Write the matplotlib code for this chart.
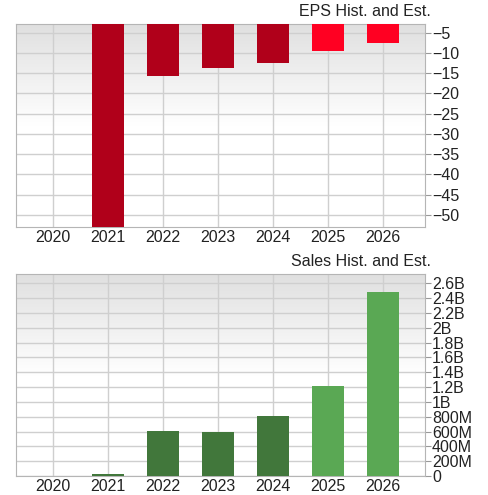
import numpy as np
import matplotlib.pyplot as plt
from matplotlib.colors import LinearSegmentedColormap
from matplotlib.ticker import FuncFormatter

years = ['2020', '2021', '2022', '2023', '2024', '2025', '2026']
eps = [0, -60, -15.8, -13.7, -12.6, -9.6, -7.5]
eps_is_est = [False, False, False, False, False, True, True]
sales = [0, 0.031e9, 0.61e9, 0.595e9, 0.807e9, 1.217e9, 2.478e9]
sales_is_est = [False, False, False, False, False, True, True]

eps_ticks = [-5, -10, -15, -20, -25, -30, -35, -40, -45, -50]
sales_ticks = [0, 0.2e9, 0.4e9, 0.6e9, 0.8e9, 1e9, 1.2e9, 1.4e9, 1.6e9, 1.8e9,
               2e9, 2.2e9, 2.4e9, 2.6e9]

plt.rcParams['font.family'] = ['Liberation Sans', 'DejaVu Sans']

fig = plt.figure(figsize=(4.88, 4.95), dpi=100)
ax1 = fig.add_axes([16 / 488, 1 - 227 / 495, 409 / 488, 203 / 495])
ax2 = fig.add_axes([16 / 488, 1 - 476 / 495, 409 / 488, 202 / 495])

bg = LinearSegmentedColormap.from_list('bg', ['#e0e0e0', '#ffffff', '#ffffff'])


def money(v, pos):
    if v == 0:
        return '0'
    if v >= 1e9:
        return f'{v / 1e9:g}B'
    return f'{v / 1e6:g}M'


def style(ax, title, ylim):
    ax.set_xlim(-0.67, 6.76)
    ax.set_ylim(*ylim)
    grad = np.linspace(0, 1, 256).reshape(-1, 1)
    ax.imshow(grad, extent=[-0.67, 6.76, ylim[0], ylim[1]], aspect='auto',
              cmap=bg, origin='upper', zorder=0)
    ax.set_ylim(*ylim)
    ax.set_xticks(range(len(years)))
    ax.set_xticklabels(years)
    ax.yaxis.tick_right()
    ax.grid(True, color='#cfcfcf', linewidth=1, zorder=1)
    ax.set_axisbelow(True)
    for s in ax.spines.values():
        s.set_color('#b5b5b5')
    ax.tick_params(axis='x', length=0, labelsize=11.5, pad=2, colors='#222222')
    ax.tick_params(axis='y', length=4, labelsize=11.5, pad=1, labelcolor='#222222',
                   color='#999999', direction='out')
    ax.text(1.015, 1.025, title, transform=ax.transAxes, ha='right', va='bottom',
            fontsize=11.5, color='#222222')


eps_colors = ['#ff0022' if e else '#b0001a' for e in eps_is_est]
ax1.bar(range(len(years)), eps, width=0.58, color=eps_colors, zorder=3)
ax1.set_yticks(eps_ticks)
style(ax1, 'EPS Hist. and Est.', (-53, -2.9))

sales_colors = ['#5aa854' if e else '#41773b' for e in sales_is_est]
ax2.bar(range(len(years)), sales, width=0.58, color=sales_colors, zorder=3)
ax2.set_yticks(sales_ticks)
ax2.yaxis.set_major_formatter(FuncFormatter(money))
style(ax2, 'Sales Hist. and Est.', (0, 2.727e9))

fig.savefig('out.png', dpi=100)
